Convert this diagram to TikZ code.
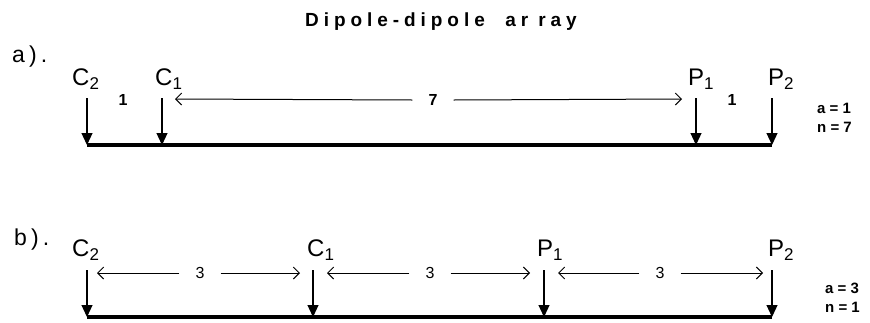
\documentclass[tikz,border=0pt]{standalone}
\usepackage{fontspec}
\setmainfont{Liberation Sans}
\usepackage{tikz}
\usetikzlibrary{arrows.meta, positioning, calc}

\newcommand{\lowsub}[1]{\raisebox{-4pt}{\fontsize{17}{17}\selectfont #1}}

\begin{document}
\begin{tikzpicture}[x=1pt, y=-1pt,
    elec/.style={-{Triangle[width=11pt, length=12pt]}, line width=1.2pt},
    ground/.style={line width=3.5pt},
    dim/.style={-{Straight Barb[length=6pt, width=12pt]}, line width=1pt},
    elabel/.style={anchor=base west, inner sep=0pt, font=\fontsize{24}{24}\selectfont},
    spacing/.style={inner sep=0pt, font=\fontsize{16}{16}\selectfont\bfseries},
    dimnum/.style={inner sep=0pt, font=\fontsize{16}{16}\selectfont},
    param/.style={anchor=west, inner sep=0pt, font=\fontsize{15}{15}\selectfont\bfseries},
    tag/.style={anchor=west, inner sep=0pt, font=\fontsize{23}{23}\selectfont\addfontfeature{LetterSpace=18}}]
    \useasboundingbox (0,0) rectangle (870,322);

    \node[inner sep=0pt, font=\fontsize{19}{19}\selectfont\bfseries\addfontfeature{LetterSpace=26}]
        (title) at (441,22) {Dipole-dipole\ \ ar\ ray};

    % a) a = 1, n = 7
    \node[tag] (taga) at (12,57) {a).};
    \coordinate (aC2t) at (87,98);   \coordinate (aC2g) at (87,145);
    \coordinate (aC1t) at (162,98);  \coordinate (aC1g) at (162,145);
    \coordinate (aP1t) at (696,98);  \coordinate (aP1g) at (696,145);
    \coordinate (aP2t) at (772,98);  \coordinate (aP2g) at (772,145);

    \draw[ground] (aC2g) -- (aP2g);
    \draw[elec] (aC2t) -- (aC2g);
    \draw[elec] (aC1t) -- (aC1g);
    \draw[elec] (aP1t) -- (aP1g);
    \draw[elec] (aP2t) -- (aP2g);

    \node[elabel] (laC2) at (72,85) {C\lowsub{2}};
    \node[elabel] (laC1) at (155,85) {C\lowsub{1}};
    \node[elabel] (laP1) at (688,85) {P\lowsub{1}};
    \node[elabel] (laP2) at (768,85) {P\lowsub{2}};

    \node[spacing] (aone) at (123,100) {1};
    \node[spacing] (atwo) at (732,100) {1};
    \node[spacing] (aseven) at (433,100) {7};
    \coordinate (adl) at (175,99);
    \coordinate (adr) at (682,99);
    \draw[dim] ($(aseven.west)+(-16,0)$) -- (adl);
    \draw[dim] ($(aseven.east)+(16,0)$) -- (adr);

    \node[param] (aa) at (817,108) {a = 1};
    \node[param] (an) at (817,127) {n = 7};

    % b) a = 3, n = 1
    \node[tag] (tagb) at (14,240) {b).};
    \coordinate (bC2t) at (87,270);   \coordinate (bC2g) at (87,317);
    \coordinate (bC1t) at (313,270);  \coordinate (bC1g) at (313,317);
    \coordinate (bP1t) at (544,270);  \coordinate (bP1g) at (544,317);
    \coordinate (bP2t) at (772,270);  \coordinate (bP2g) at (772,317);

    \draw[ground] (bC2g) -- (bP2g);
    \draw[elec] (bC2t) -- (bC2g);
    \draw[elec] (bC1t) -- (bC1g);
    \draw[elec] (bP1t) -- (bP1g);
    \draw[elec] (bP2t) -- (bP2g);

    \node[elabel] (lbC2) at (72,256) {C\lowsub{2}};
    \node[elabel] (lbC1) at (307,256) {C\lowsub{1}};
    \node[elabel] (lbP1) at (537,256) {P\lowsub{1}};
    \node[elabel] (lbP2) at (768,256) {P\lowsub{2}};

    \node[dimnum] (bthree1) at (200,273) {3};
    \node[dimnum] (bthree2) at (430,273) {3};
    \node[dimnum] (bthree3) at (660,273) {3};
    \coordinate (bd1l) at (97,273);  \coordinate (bd1r) at (300,273);
    \coordinate (bd2l) at (327,273); \coordinate (bd2r) at (530,273);
    \coordinate (bd3l) at (558,273); \coordinate (bd3r) at (763,273);
    \draw[dim] ($(bthree1.west)+(-16,0)$) -- (bd1l);
    \draw[dim] ($(bthree1.east)+(16,0)$) -- (bd1r);
    \draw[dim] ($(bthree2.west)+(-16,0)$) -- (bd2l);
    \draw[dim] ($(bthree2.east)+(16,0)$) -- (bd2r);
    \draw[dim] ($(bthree3.west)+(-16,0)$) -- (bd3l);
    \draw[dim] ($(bthree3.east)+(16,0)$) -- (bd3r);

    \node[param] (ba) at (825,288) {a = 3};
    \node[param] (bn) at (825,307) {n = 1};
\end{tikzpicture}
\end{document}
